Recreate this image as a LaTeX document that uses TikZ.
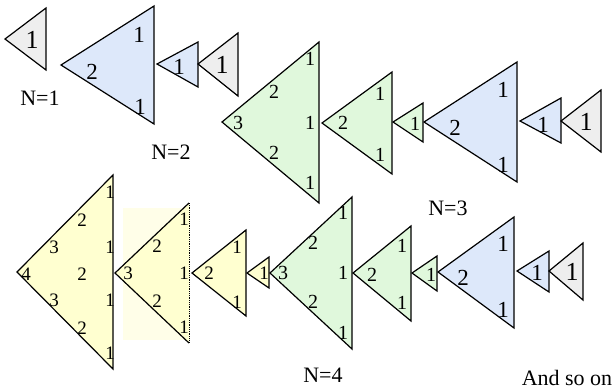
\documentclass[tikz,border=0pt]{standalone}
\usepackage{fontspec}
\setmainfont{Liberation Serif}
\definecolor{tgray}{HTML}{EEEEEE}
\definecolor{tblue}{HTML}{DDE8FA}
\definecolor{tgreen}{HTML}{E0F8DC}
\definecolor{tyellow}{HTML}{FFFFD0}
\definecolor{thalo}{HTML}{FFFEE8}
\begin{document}
\begin{tikzpicture}[x=1pt,y=-1pt,
  tri/.style={draw=black, line width=1.2pt, line join=miter},
  dg/.style={font=\fontsize{26}{26}\selectfont, inner sep=0pt},
  db/.style={font=\fontsize{23}{23}\selectfont, inner sep=0pt},
  dn/.style={font=\fontsize{20}{20}\selectfont, inner sep=0pt},
  dy/.style={font=\fontsize{19}{19}\selectfont, inner sep=0pt},
  caption/.style={font=\fontsize{22}{22}\selectfont, inner sep=0pt}]
  \useasboundingbox (0,0) rectangle (616,389);
  % N=1
  \filldraw[tri, fill=tgray] (5,39) -- (46,8) -- (46,70) -- cycle;
  \node[dg] (a1) at (32,40) {1};
  \node[caption] (capA) at (40,98) {N=1};
  % N=2
  \filldraw[tri, fill=tblue] (61,65) -- (154,6) -- (154,124) -- cycle;
  \node[db] (b1) at (139,35) {1};
  \node[db] (b2) at (92,72) {2};
  \node[db] (b3) at (140,107) {1};
  \filldraw[tri, fill=tblue] (157,64) -- (198,42) -- (198,87) -- cycle;
  \node[db] (b4) at (179,67) {1};
  \filldraw[tri, fill=tgray] (198,64) -- (238,33) -- (238,96) -- cycle;
  \node[dg] (b5) at (222,65) {1};
  \node[caption] (capB) at (171,152) {N=2};
  % N=3
  \filldraw[tri, fill=tgreen] (222,122) -- (319,42) -- (319,203) -- cycle;
  \node[dn] (c1) at (310,59) {1};
  \node[dn] (c2) at (274,92) {2};
  \node[dn] (c3) at (238,123) {3};
  \node[dn] (c4) at (310,123) {1};
  \node[dn] (c5) at (274,153) {2};
  \node[dn] (c6) at (310,183) {1};
  \filldraw[tri, fill=tgreen] (322,123) -- (392,72) -- (392,174) -- cycle;
  \node[dn] (c7) at (380,94) {1};
  \node[dn] (c8) at (343,123) {2};
  \node[dn] (c9) at (380,155) {1};
  \filldraw[tri, fill=tgreen] (393,122) -- (423,103) -- (423,142) -- cycle;
  \node[dn] (c10) at (415,124) {1};
  \filldraw[tri, fill=tblue] (424,122) -- (517,62) -- (517,182) -- cycle;
  \node[db] (c11) at (503,90) {1};
  \node[db] (c12) at (455,128) {2};
  \node[db] (c13) at (503,165) {1};
  \filldraw[tri, fill=tblue] (520,121) -- (561,98) -- (561,143) -- cycle;
  \node[db] (c14) at (543,125) {1};
  \filldraw[tri, fill=tgray] (561,121) -- (601,90) -- (601,152) -- cycle;
  \node[dg] (c15) at (586,122) {1};
  \node[caption] (capC) at (448,208) {N=3};
  % N=4
  \filldraw[tri, fill=tyellow] (17,272) -- (113,175) -- (113,369) -- cycle;
  \node[dy] (d1) at (110,192) {1};
  \node[dy] (d2) at (82,220) {2};
  \node[dy] (d3) at (54,247) {3};
  \node[dy] (d4) at (110,247) {1};
  \node[dy] (d5) at (26,274) {4};
  \node[dy] (d6) at (82,274) {2};
  \node[dy] (d7) at (54,300) {3};
  \node[dy] (d8) at (110,300) {1};
  \node[dy] (d9) at (82,328) {2};
  \node[dy] (d10) at (110,353) {1};
  \fill[thalo] (123,208) rectangle (190,340);
  \fill[tyellow] (115,273) -- (189,203) -- (189,343) -- cycle;
  \draw[tri] (189,343) -- (115,273) -- (189,203);
  \draw[line width=0.8pt, densely dotted] (189,203) -- (189,343);
  \node[dy] (d11) at (184,219) {1};
  \node[dy] (d12) at (157,246) {2};
  \node[dy] (d13) at (128,273) {3};
  \node[dy] (d14) at (184,273) {1};
  \node[dy] (d15) at (157,301) {2};
  \node[dy] (d16) at (184,327) {1};
  \filldraw[tri, fill=tyellow] (192,273) -- (246,230) -- (246,316) -- cycle;
  \node[dy] (d17) at (237,247) {1};
  \node[dy] (d18) at (209,273) {2};
  \node[dy] (d19) at (237,302) {1};
  \filldraw[tri, fill=tyellow] (247,273) -- (269,257) -- (269,288) -- cycle;
  \node[dy] (d20) at (264,273) {1};
  \filldraw[tri, fill=tgreen] (270,273) -- (352,197) -- (352,349) -- cycle;
  \node[dn] (d21) at (343,213) {1};
  \node[dn] (d22) at (313,243) {2};
  \node[dn] (d23) at (283,273) {3};
  \node[dn] (d24) at (343,273) {1};
  \node[dn] (d25) at (313,302) {2};
  \node[dn] (d26) at (343,333) {1};
  \filldraw[tri, fill=tgreen] (353,273) -- (411,226) -- (411,321) -- cycle;
  \node[dn] (d27) at (402,246) {1};
  \node[dn] (d28) at (372,275) {2};
  \node[dn] (d29) at (402,303) {1};
  \filldraw[tri, fill=tgreen] (412,273) -- (437,256) -- (437,291) -- cycle;
  \node[dn] (d30) at (431,275) {1};
  \filldraw[tri, fill=tblue] (438,272) -- (514,217) -- (514,328) -- cycle;
  \node[db] (d31) at (503,244) {1};
  \node[db] (d32) at (463,278) {2};
  \node[db] (d33) at (503,310) {1};
  \filldraw[tri, fill=tblue] (517,271) -- (549,251) -- (549,292) -- cycle;
  \node[db] (d34) at (537,273) {1};
  \filldraw[tri, fill=tgray] (549,271) -- (583,243) -- (583,300) -- cycle;
  \node[dg] (d35) at (572,272) {1};
  \node[caption] (capD) at (323,375) {N=4};
  \node[caption] (more) at (567,378) {And so on};
\end{tikzpicture}
\end{document}
